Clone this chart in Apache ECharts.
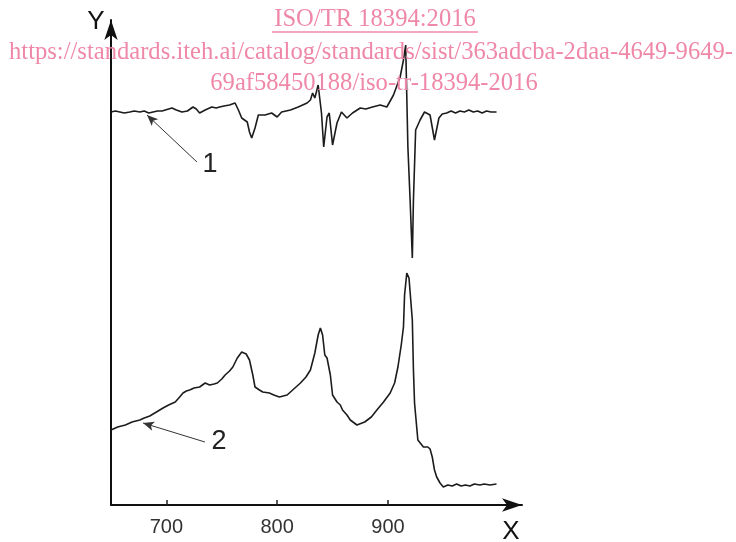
<!DOCTYPE html>
<html>
<head>
<meta charset="utf-8">
<script src="https://cdn.jsdelivr.net/npm/echarts@6/dist/echarts.min.js"></script>
<style>html,body{margin:0;padding:0;background:#fff}#c{width:736px;height:542px}</style>
</head>
<body>
<div id="c"></div>
<script>
// Curve 1 (derivative-like spectrum): wavenumber / intensity (arbitrary units)
const curve1X = [650,654,658,662,667,671,676,680,684,688,692,696,699,702,705,709,714,719,724,727,730,735,741,745,748,752,757,762,765,768,773,775,777,780,783,789,795,800,804,812,819,827,830,832,834,837,840,842,845,847,850,854,858,863,868,875,880,886,893,899,905,911,914,916,918,920,922,923,925,929,933,938,942,946,949,953,957,961,965,969,973,977,981,985,989,993,998];
const curve1Y = [393,394,393,392,393,394,393,394,392,393,394,394,395,396,397,395,393,394,398,396,392,395,398,397,398,399,400,402,395,387,383,373,367,377,390,390,392,388,393,395,398,402,405,412,407,420,392,358,388,392,360,382,393,387,392,397,396,398,400,398,410,428,445,460,358,305,247,305,375,385,393,390,365,387,391,392,394,392,394,393,395,393,394,392,394,393,393];
// Curve 2 (absorption spectrum)
const curve2X = [650,656,663,669,676,680,685,691,697,702,708,712,715,718,721,725,730,735,739,743,746,750,753,757,760,764,768,772,775,778,780,784,787,793,797,802,809,814,821,826,830,834,837,839,841,843,845,848,850,854,857,859,863,866,872,879,885,890,896,902,906,909,912,914,915,917,919,922,923,924,927,932,936,938,940,942,944,947,950,954,958,962,966,970,974,978,983,987,992,998];
const curve2Y = [75,78,80,83,85,87,89,93,97,100,103,108,112,114,115,117,118,122,120,121,122,126,130,134,138,147,153,151,145,130,118,115,113,112,110,108,110,115,122,128,135,152,170,177,170,150,147,130,110,103,100,95,90,85,80,83,88,95,103,112,122,138,160,178,210,232,227,185,135,102,65,58,58,56,48,35,28,22,18,20,19,21,19,20,19,21,20,21,20,21];
// Axis tick labels
const xTicks = [700, 800, 900];
// Annotation labels
const labels = ['1', '2'];
const watermark = ['ISO/TR 18394:2016', 'https://standards.iteh.ai/catalog/standards/sist/363adcba-2daa-4649-9649-', '69af58450188/iso-tr-18394-2016'];

// Annotation anchor points (data space)
const ann1 = {from: [727.6, 343], to: [682.5, 390], label: [739.4, 340]};
const ann2 = {from: [734.8, 63], to: [678.9, 82], label: [747.5, 63]};

const chart = echarts.init(document.getElementById('c'));
const pair = (xs, ys) => xs.map((x, i) => [x, ys[i]]);
const lineCol = '#1c1c1c';
const pink = '#ef88a8';

function annotation(a, text) {
  return {
    markLine: {
      silent: true, animation: false,
      symbol: ['none', 'arrow'], symbolSize: [7, 11],
      lineStyle: {color: '#333', width: 1, type: 'solid'},
      label: {show: false},
      data: [[{coord: a.from}, {coord: a.to}]]
    },
    markPoint: {
      silent: true, animation: false,
      symbol: 'circle', symbolSize: 0,
      label: {show: true, formatter: text, color: '#222', fontSize: 27, fontFamily: 'Liberation Sans', position: 'inside'},
      data: [{coord: a.label}]
    }
  };
}

chart.setOption({
  animation: false,
  backgroundColor: '#fff',
  grid: {left: 111, right: 214, top: 20, bottom: 37},
  xAxis: {
    type: 'value', min: 650, max: 1021,
    axisLine: {show: true, symbol: ['none', 'arrow'], symbolSize: [10, 20], lineStyle: {color: '#111', width: 2}},
    axisTick: {show: true, inside: true, length: 5, customValues: xTicks, lineStyle: {color: '#222', width: 1.5}},
    axisLabel: {show: true, customValues: xTicks, margin: 12, fontSize: 20, fontFamily: 'Liberation Sans', color: '#333'},
    splitLine: {show: false}
  },
  yAxis: {
    type: 'value', min: 0, max: 485,
    axisLine: {show: true, symbol: ['none', 'arrow'], symbolSize: [10, 20], lineStyle: {color: '#111', width: 2}},
    axisTick: {show: false}, axisLabel: {show: false}, splitLine: {show: false}
  },
  series: [
    Object.assign({
      type: 'line', data: pair(curve1X, curve1Y), showSymbol: false, smooth: false,
      lineStyle: {color: lineCol, width: 1.6}
    }, annotation(ann1, labels[0])),
    Object.assign({
      type: 'line', data: pair(curve2X, curve2Y), showSymbol: false, smooth: false,
      lineStyle: {color: lineCol, width: 1.6}
    }, annotation(ann2, labels[1]))
  ],
  graphic: [
    {type: 'text', x: 96, y: 22, style: {text: 'Y', font: '26px "Liberation Sans"', fill: '#111', textAlign: 'center', textVerticalAlign: 'middle'}},
    {type: 'text', x: 511, y: 532, style: {text: 'X', font: '26px "Liberation Sans"', fill: '#111', textAlign: 'center', textVerticalAlign: 'middle'}},
    {type: 'text', x: 375, y: 20, z: 10, style: {text: watermark[0], font: '24.6px "Liberation Serif"', fill: pink, textAlign: 'center', textVerticalAlign: 'middle'}},
    {type: 'line', z: 10, shape: {x1: 272, y1: 32, x2: 478, y2: 32}, style: {stroke: pink, lineWidth: 1.5}},
    {type: 'text', x: 371, y: 53, z: 10, style: {text: watermark[1], font: '24.6px "Liberation Serif"', fill: pink, textAlign: 'center', textVerticalAlign: 'middle'}},
    {type: 'text', x: 374, y: 84, z: 10, style: {text: watermark[2], font: '24.6px "Liberation Serif"', fill: pink, textAlign: 'center', textVerticalAlign: 'middle'}}
  ]
});
</script>
</body>
</html>
